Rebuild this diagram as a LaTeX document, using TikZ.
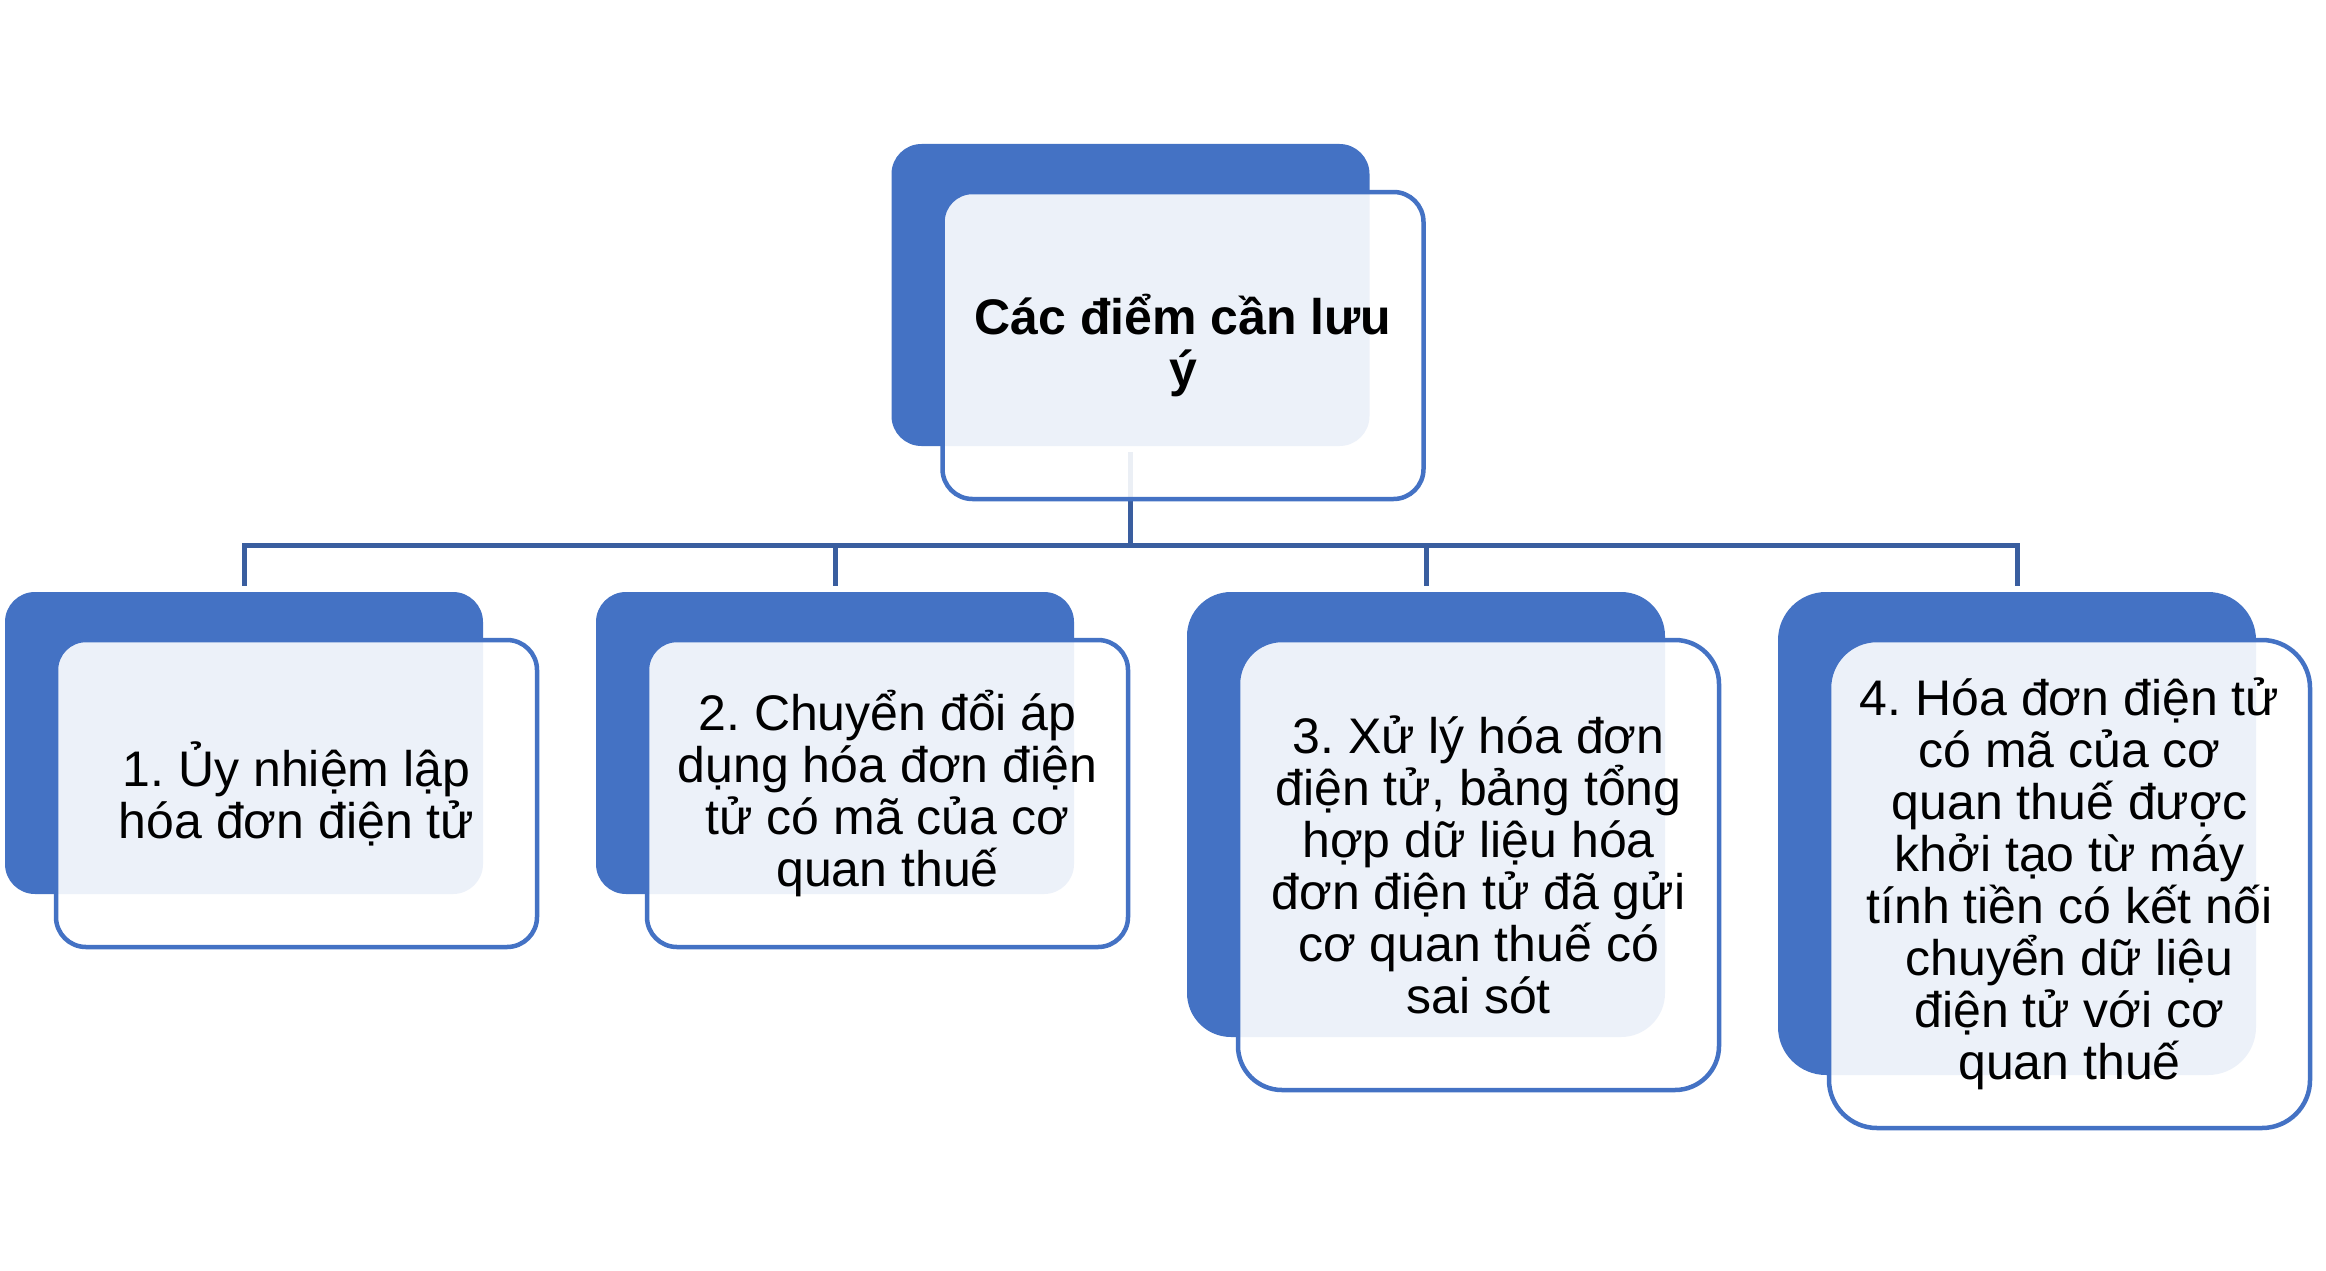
\documentclass[tikz,border=0pt]{standalone}
\usepackage{fontspec}
\setmainfont{Liberation Sans}
\frenchspacing
\definecolor{accent}{HTML}{4472C4}
\definecolor{connc}{HTML}{3A5E9F}
\newcommand{\bodyfnt}{\fontsize{50}{52}\selectfont\frenchspacing}
\tikzset{
  bluebox/.style={fill=accent, draw=none, inner sep=0pt, minimum width=478pt},
  frontbox/.style={draw=accent, line width=4.5pt, fill=white, fill opacity=0.9, text opacity=1,
    inner sep=0pt, align=center, font=\bodyfnt, minimum width=481pt, xshift=52.5pt, yshift=-50.5pt},
  conn/.style={draw=connc, line width=5pt}
}
\begin{document}
\begin{tikzpicture}[x=1pt, y=-1pt]
\useasboundingbox[fill=white] (0,0) rectangle (2326,1271);
% back (blue) boxes
\node[bluebox, minimum height=302pt, rounded corners=30pt] (b0) at (1130.5,295) {};
\node[bluebox, minimum height=302pt, rounded corners=30pt] (b1) at (244,743) {};
\node[bluebox, minimum height=302pt, rounded corners=30pt] (b2) at (835,743) {};
\node[bluebox, minimum height=445pt, rounded corners=44pt] (b3) at (1426,814.5) {};
\node[bluebox, minimum height=483pt, rounded corners=48pt] (b4) at (2017,833.5) {};
% connectors
\coordinate (bus) at (1130.5,545);
\draw[conn] ([yshift=-6pt]b0.south) -- (bus);
\draw[conn] ([yshift=6pt]b1.north) |- (bus) -| ([yshift=6pt]b4.north);
\draw[conn] ([yshift=6pt]b2.north) -- (b2.north |- bus);
\draw[conn] ([yshift=6pt]b3.north) -- (b3.north |- bus);
% front boxes
\node[frontbox, minimum height=307pt, rounded corners=30pt, font=\bodyfnt\bfseries] (f0) at (b0.center) {Các điểm cần lưu\\ý};
\node[frontbox, minimum height=307pt, rounded corners=30pt] (f1) at (b1.center) {1. Ủy nhiệm lập\\hóa đơn điện tử};
\node[frontbox, minimum height=307pt, rounded corners=30pt] (f2) at (b2.center) {2. Chuyển đổi áp\\dụng hóa đơn điện\\tử có mã của cơ\\quan thuế};
\node[frontbox, minimum height=450pt, rounded corners=44pt] (f3) at (b3.center) {3. Xử lý hóa đơn\\điện tử, bảng tổng\\hợp dữ liệu hóa\\đơn điện tử đã gửi\\cơ quan thuế có\\sai sót};
\node[frontbox, minimum height=488pt, rounded corners=48pt] (f4) at (b4.center) {4. Hóa đơn điện tử\\có mã của cơ\\quan thuế được\\khởi tạo từ máy\\tính tiền có kết nối\\chuyển dữ liệu\\điện tử với cơ\\quan thuế};
\end{tikzpicture}
\end{document}
